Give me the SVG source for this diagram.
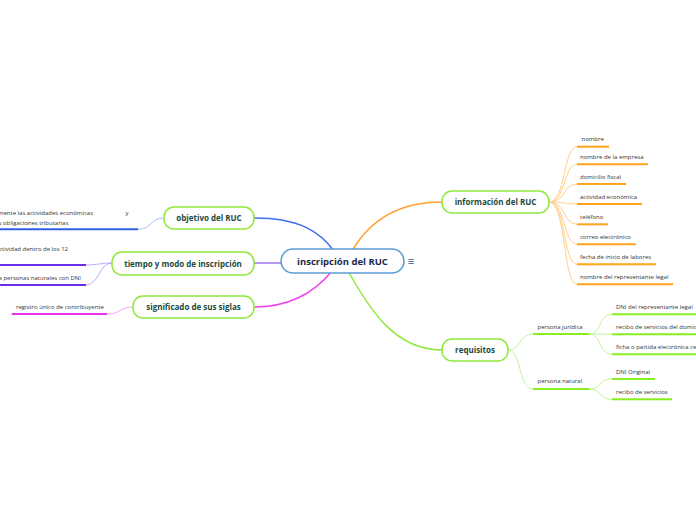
<svg xmlns="http://www.w3.org/2000/svg" width="696" height="520" viewBox="0 0 696 520">
<style>
.node rect{fill:#fff;stroke:#8fe83a;stroke-width:1.5}
.ntext{font-family:"Open Sans","Liberation Sans",sans-serif;font-weight:bold;font-size:8px;fill:#1d4a3a;text-anchor:middle}
.ctext{font-family:"Open Sans","Liberation Sans",sans-serif;font-weight:bold;font-size:9.5px;fill:#1b2a4b;text-anchor:middle}
.t{font-family:"Open Sans","Liberation Sans",sans-serif;font-size:6px;fill:#333}
.te{font-family:"Open Sans","Liberation Sans",sans-serif;font-size:6px;fill:#333;text-anchor:end}
.c path{fill:none}
.ul{stroke-width:2;fill:none}
</style>
<rect width="696" height="520" fill="#fff"/>
<g id="connectors" class="c">
  <path d="M254,218 C300,218 320,232 334,251" stroke="#3a6ff0" stroke-width="1.5"/>
  <path d="M254,263 L283,263" stroke="#a070f0" stroke-width="1.5"/>
  <path d="M332,271 C315,292 290,307 254,307" stroke="#f040f0" stroke-width="1.5"/>
  <path d="M352,251 C370,220 400,202 442,202" stroke="#ffa030" stroke-width="1.5"/>
  <path d="M348,271 C370,310 395,350 442,350" stroke="#90e840" stroke-width="1.5"/>
  <g stroke="#ffd08a" stroke-width="1">
    <path d="M549,202 C566,202 563,146.7 577,146.7"/>
    <path d="M549,202 C566,202 563,164.3 577,164.3"/>
    <path d="M549,202 C566,202 563,184 577,184"/>
    <path d="M549,202 C566,202 563,204 577,204"/>
    <path d="M549,202 C566,202 563,224.3 577,224.3"/>
    <path d="M549,202 C566,202 563,244.3 577,244.3"/>
    <path d="M549,202 C566,202 563,264.3 577,264.3"/>
    <path d="M549,202 C566,202 563,284.3 577,284.3"/>
  </g>
  <g stroke="#c4f59a" stroke-width="1">
    <path d="M508,350 C522,350 518,334 533,334"/>
    <path d="M508,350 C522,350 518,389 533,389"/>
    <path d="M589,334 C602,334 598,314.3 612,314.3"/>
    <path d="M589,334 L612,334.3"/>
    <path d="M589,334 C602,334 598,354.3 612,354.3"/>
    <path d="M589,389 C602,389 598,379 612,379"/>
    <path d="M589,389 C602,389 598,399.3 612,399.3"/>
  </g>
  <path d="M164,218 C150,218 152,229.3 138,229.3" stroke="#a8bff5" stroke-width="1"/>
  <path d="M112,263 C99,263 99,265 86,265" stroke="#c4a8f5" stroke-width="1"/>
  <path d="M112,263 C99,263 99,285 86,285" stroke="#c4a8f5" stroke-width="1"/>
  <path d="M133,307 C120,307 120,314 107,314" stroke="#f5a8f5" stroke-width="1"/>
</g>
<g id="root">
  <rect x="281" y="249" width="123" height="24" rx="12" fill="#fff" stroke="#5b9bd5" stroke-width="1.5"/>
  <text class="ctext" x="342.5" y="264.5">inscripción del RUC</text>
  <text x="411" y="265" font-family="Liberation Sans,DejaVu Sans,sans-serif" font-size="11" fill="#3a5a8a" text-anchor="middle">≡</text>
</g>
<g id="informacion" class="node">
  <rect x="442" y="191" width="107" height="22" rx="10"/>
  <text class="ntext" x="495.5" y="205">información del RUC</text>
</g>
<g id="requisitos" class="node">
  <rect x="442" y="339" width="66" height="22" rx="10"/>
  <text class="ntext" x="475" y="353">requisitos</text>
</g>
<g id="objetivo" class="node">
  <rect x="164" y="207" width="90" height="22" rx="10"/>
  <text class="ntext" x="209" y="221">objetivo del RUC</text>
</g>
<g id="tiempo" class="node">
  <rect x="112" y="252" width="142" height="23" rx="10"/>
  <text class="ntext" x="183" y="266.5">tiempo y modo de inscripción</text>
</g>
<g id="significado" class="node">
  <rect x="133" y="296" width="121" height="22" rx="10"/>
  <text class="ntext" x="193.5" y="310">significado de sus siglas</text>
</g>
<g id="info-children">
  <g id="nombre"><text class="t" x="581.5" y="141">nombre</text><path class="ul" d="M577,146.7 H609" stroke="#ffa31a"/></g>
  <g id="nombre-empresa"><text class="t" x="580" y="158.7">nombre de la empresa</text><path class="ul" d="M577,164.3 H648" stroke="#ffa31a"/></g>
  <g id="domicilio"><text class="t" x="580" y="178.7">domicilio fiscal</text><path class="ul" d="M577,184 H626" stroke="#ffa31a"/></g>
  <g id="actividad"><text class="t" x="580" y="198.7">actividad económica</text><path class="ul" d="M577,204 H642" stroke="#ffa31a"/></g>
  <g id="telefono"><text class="t" x="580" y="218.7">teléfono</text><path class="ul" d="M577,224.3 H608" stroke="#ffa31a"/></g>
  <g id="correo"><text class="t" x="580" y="238.7">correo electrónico</text><path class="ul" d="M577,244.3 H636" stroke="#ffa31a"/></g>
  <g id="fecha"><text class="t" x="580" y="258.7">fecha de inicio de labores</text><path class="ul" d="M577,264.3 H656" stroke="#ffa31a"/></g>
  <g id="representante"><text class="t" x="580" y="278.7">nombre del representante legal</text><path class="ul" d="M577,284.3 H673" stroke="#ffa31a"/></g>
</g>
<g id="req-children">
  <g id="juridica"><text class="t" x="537.5" y="328.7">persona jurídica</text><path class="ul" d="M533,334 H589" stroke="#88ee22"/></g>
  <g id="natural"><text class="t" x="537.5" y="383">persona natural</text><path class="ul" d="M533,389 H589" stroke="#88ee22"/></g>
  <g id="dni-rep"><text class="t" x="616" y="309.3">DNI del representante legal</text><path class="ul" d="M612,314.3 H700" stroke="#88ee22"/></g>
  <g id="recibo-dom"><text class="t" x="616" y="329.3">recibo de servicios del domicilio fiscal</text><path class="ul" d="M612,334.3 H700" stroke="#88ee22"/></g>
  <g id="ficha"><text class="t" x="616" y="349.3">ficha o partida electrónica certificada</text><path class="ul" d="M612,354.3 H700" stroke="#88ee22"/></g>
  <g id="dni-original"><text class="t" x="616" y="373.7">DNI Original</text><path class="ul" d="M612,379 H655" stroke="#88ee22"/></g>
  <g id="recibo"><text class="t" x="616" y="393.7">recibo de servicios</text><path class="ul" d="M612,399.3 H672" stroke="#88ee22"/></g>
</g>
<g id="left-children">
  <g id="objetivo-text">
    <text class="te" x="93" y="215.3">Registrar formalmente las actividades económicas</text>
    <text class="t" x="125.5" y="215.3">y</text>
    <text class="te" x="68.3" y="224.7">cumplir con las obligaciones tributarias</text>
    <path class="ul" d="M-5,229.3 H138" stroke="#2e5fe6"/>
  </g>
  <g id="tiempo-1">
    <text class="te" x="68" y="251">Inicio de actividad dentro de los 12</text>
    <path class="ul" d="M-5,265 H86" stroke="#6a2ee8"/>
  </g>
  <g id="tiempo-2">
    <text class="te" x="81" y="279.7">para personas naturales con DNI</text>
    <path class="ul" d="M-5,285 H86" stroke="#6a2ee8"/>
  </g>
  <g id="siglas">
    <text class="t" x="16" y="308.7">registro único de contribuyente</text>
    <path class="ul" d="M11.7,314 H107" stroke="#e832e8"/>
  </g>
</g>
</svg>
